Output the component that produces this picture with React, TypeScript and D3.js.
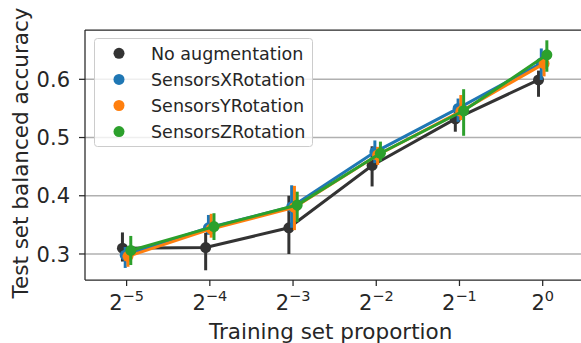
import React from "react";
import * as d3 from "d3";

const categories = ["-5", "-4", "-3", "-2", "-1", "0"];
const seriesNames = ["No augmentation", "SensorsXRotation", "SensorsYRotation", "SensorsZRotation"];
const seriesColors = ["#333333", "#1f77b4", "#ff7f0e", "#2ca02c"];

const noAugMean = [0.31, 0.311, 0.345, 0.452, 0.532, 0.599];
const noAugLow = [0.287, 0.272, 0.3, 0.416, 0.51, 0.57];
const noAugHigh = [0.337, 0.336, 0.4, 0.485, 0.545, 0.615];

const xRotMean = [0.298, 0.345, 0.381, 0.475, 0.55, 0.628];
const xRotLow = [0.276, 0.333, 0.345, 0.456, 0.527, 0.599];
const xRotHigh = [0.312, 0.367, 0.418, 0.495, 0.567, 0.653];

const yRotMean = [0.296, 0.343, 0.38, 0.47, 0.545, 0.627];
const yRotLow = [0.278, 0.328, 0.341, 0.453, 0.53, 0.605];
const yRotHigh = [0.31, 0.369, 0.417, 0.484, 0.573, 0.639];

const zRotMean = [0.306, 0.347, 0.384, 0.473, 0.546, 0.642];
const zRotLow = [0.281, 0.324, 0.355, 0.459, 0.503, 0.613];
const zRotHigh = [0.331, 0.37, 0.407, 0.493, 0.583, 0.667];

const means = [noAugMean, xRotMean, yRotMean, zRotMean];
const lows = [noAugLow, xRotLow, yRotLow, zRotLow];
const highs = [noAugHigh, xRotHigh, yRotHigh, zRotHigh];

const yTicks = [0.3, 0.4, 0.5, 0.6];

const W = 581;
const H = 343;
const left = 85;
const right = 584.3;
const top = 30;
const bottom = 280;
const font = "DejaVu Sans, sans-serif";

export default function App() {
  const x = d3.scaleLinear().domain([-0.5, categories.length - 0.5]).range([left, right]);
  const y = d3.scaleLinear().domain([0.2553, 0.6847]).range([bottom, top]);
  const dodge = 0.1;
  const offsets = seriesNames.map((_, j) => (j / (seriesNames.length - 1)) * dodge - dodge / 2);

  return (
    <svg
      width={W}
      height={H}
      style={{ position: "absolute", left: 0, top: 0, background: "#fff" }}
      fontFamily={font}
    >
      {/* grid */}
      {yTicks.map((t) => (
        <line key={"g" + t} x1={left} x2={right} y1={y(t)} y2={y(t)} stroke="#b0b0b0" strokeWidth={1.5} />
      ))}
      {/* series */}
      {means.map((m, j) => {
        const off = offsets[j];
        const lx = d3
          .line<number>()
          .x((_, i) => x(i + off))
          .y((d) => y(d));
        return (
          <g key={"s" + j}>
            <path d={lx(m) || ""} fill="none" stroke={seriesColors[j]} strokeWidth={3} />
            {m.map((_, i) => (
              <line
                key={"e" + i}
                x1={x(i + off)}
                x2={x(i + off)}
                y1={y(lows[j][i])}
                y2={y(highs[j][i])}
                stroke={seriesColors[j]}
                strokeWidth={3}
              />
            ))}
            {m.map((v, i) => (
              <circle key={"p" + i} cx={x(i + off)} cy={y(v)} r={5.5} fill={seriesColors[j]} />
            ))}
          </g>
        );
      })}
      {/* spines */}
      <line x1={left} x2={left} y1={top} y2={bottom} stroke="#262626" strokeWidth={1.25} />
      <line x1={left} x2={W} y1={top} y2={top} stroke="#262626" strokeWidth={1.25} />
      <line x1={left} x2={W} y1={bottom} y2={bottom} stroke="#262626" strokeWidth={1.25} />
      {/* y ticks */}
      {yTicks.map((t) => (
        <g key={"yt" + t}>
          <line x1={left - 6} x2={left} y1={y(t)} y2={y(t)} stroke="#262626" strokeWidth={1.25} />
          <text x={left - 15} y={y(t)} dy="0.36em" textAnchor="end" fontSize={21} fill="#262626">
            {t.toFixed(1)}
          </text>
        </g>
      ))}
      {/* x ticks */}
      {categories.map((c, i) => (
        <g key={"xt" + c}>
          <line x1={x(i)} x2={x(i)} y1={bottom} y2={bottom + 6} stroke="#262626" strokeWidth={1.25} />
          <text x={x(i)} y={310} textAnchor="middle" fontSize={21} fill="#262626">
            2
            <tspan fontSize={14.5} dy={-9}>
              {c.replace("-", "\u2212")}
            </tspan>
          </text>
        </g>
      ))}
      {/* axis labels */}
      <text x={(left + right) / 2 - 4} y={339} textAnchor="middle" fontSize={21.5} fill="#262626">
        Training set proportion
      </text>
      <text
        transform={`translate(28, ${153}) rotate(-90)`}
        textAnchor="middle"
        fontSize={21.5}
        fill="#262626"
      >
        Test set balanced accuracy
      </text>
      {/* legend */}
      <rect x={94.5} y={38.5} width={218} height={108} rx={3} fill="#fff" fillOpacity={0.8} stroke="#cccccc" strokeWidth={1} />
      {seriesNames.map((s, j) => (
        <g key={"l" + j}>
          <circle cx={119} cy={53.3 + j * 26.1} r={5.5} fill={seriesColors[j]} />
          <text x={151} y={53.3 + j * 26.1} dy="0.36em" fontSize={17.5} fill="#262626">
            {s}
          </text>
        </g>
      ))}
    </svg>
  );
}
